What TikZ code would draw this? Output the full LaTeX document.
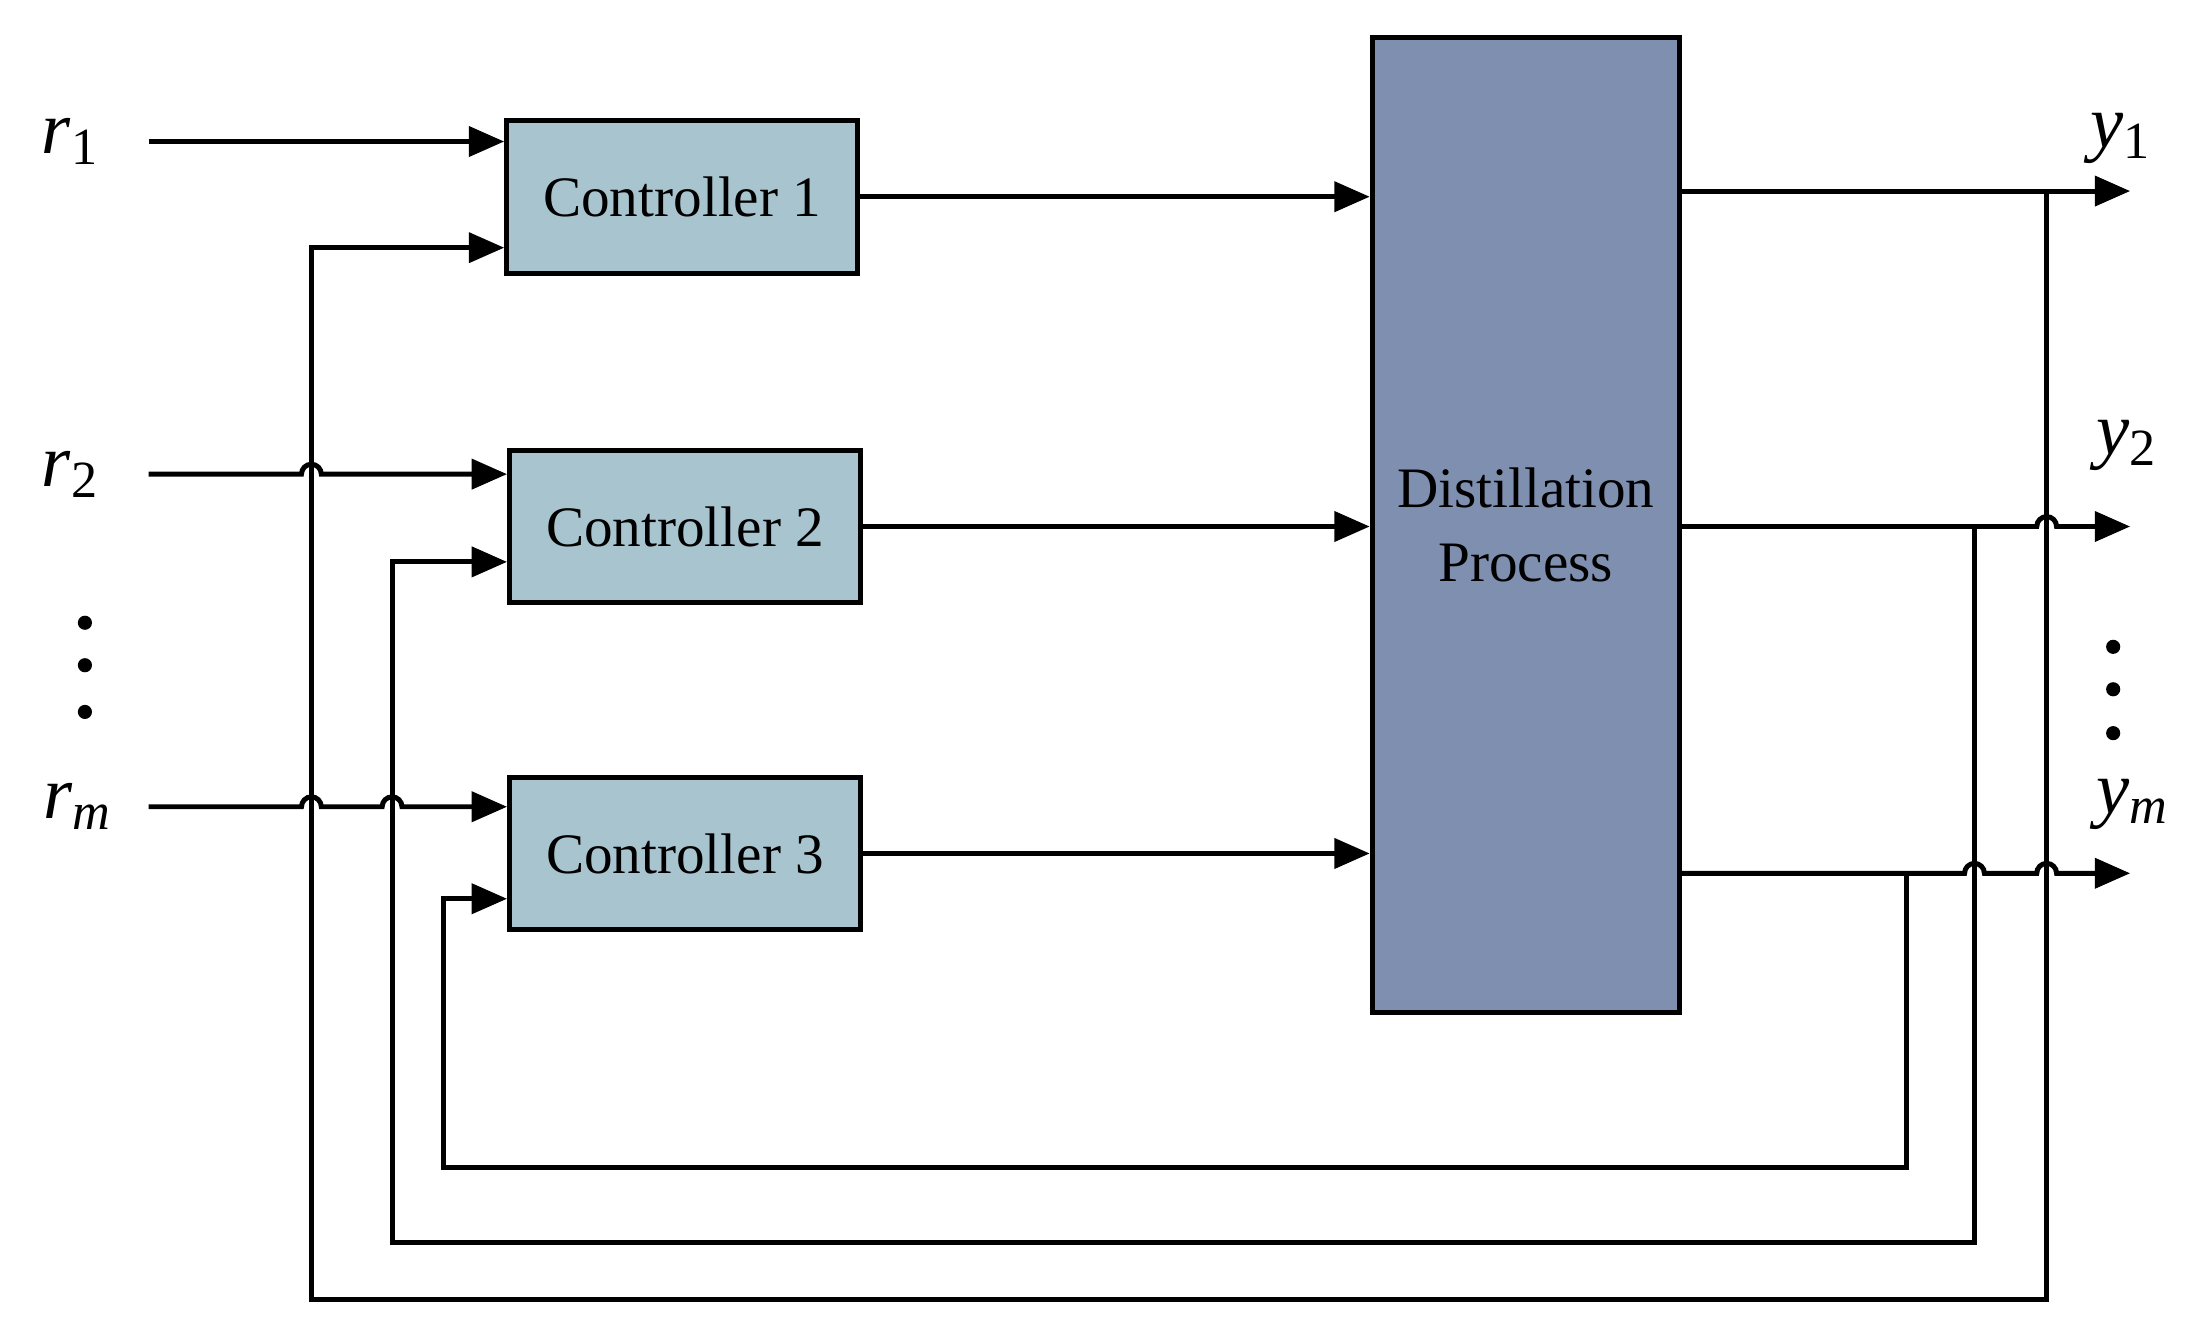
\documentclass[tikz,border=0pt]{standalone}
\usepackage{fontspec}
\setmainfont{Liberation Serif}
\usetikzlibrary{arrows.meta}
\definecolor{ctrl}{HTML}{A8C4CE}
\definecolor{proc}{HTML}{7F8FAF}
\begin{document}
\begin{tikzpicture}[x=0.1mm,y=-0.1mm,
  ln/.style={line width=1pt},
  ar/.style={ln,-{Triangle[length=2.5mm,width=2.1mm]}},
  box/.style={draw,line width=1pt,fill=ctrl,minimum width=24.8mm,minimum height=10.8mm,inner sep=0pt,font=\fontsize{11.5}{13}\selectfont},
  lab/.style={font=\fontsize{15}{17}\selectfont},
  dot/.style={circle,fill,inner sep=0pt,minimum size=1mm}]
\useasboundingbox (0,0) rectangle (1560,947);
\node[box] (c1) at (482,139) {Controller 1};
\node[box] (c2) at (484,372) {Controller 2};
\node[box] (c3) at (484,603) {Controller 3};
\node[draw,line width=1pt,fill=proc,minimum width=21.7mm,minimum height=68.9mm,inner sep=0pt,align=center,font=\fontsize{11.5}{15}\selectfont] (dp) at (1078,371) {Distillation\\Process};
% labels
\node[lab] (r1) at (50,100) {\textit{r}\textsubscript{1}};
\node[lab] (r2) at (50,335) {\textit{r}\textsubscript{2}};
\node[lab] (rm) at (55,570) {\textit{r}\textsubscript{\textit{m}}};
\node[lab] (y1) at (1499,98) {\textit{y}\textsubscript{1}};
\node[lab] (y2) at (1503,315) {\textit{y}\textsubscript{2}};
\node[lab] (ym) at (1507,568) {\textit{y}\textsubscript{\textit{m}}};
\foreach \i/\y in {a/440,b/470,c/503}{\node[dot] (ld\i) at (60,\y) {};}
\foreach \i/\y in {a/457,b/487,c/518}{\node[dot] (rd\i) at (1493,\y) {};}
% coordinates
\coordinate (r1s) at (105,100); \coordinate (r2s) at (105,335); \coordinate (rms) at (105,570);
\coordinate (o1) at (1505,135); \coordinate (o2) at (1505,372); \coordinate (om) at (1505,617);
% references to controllers
\draw[ar] (r1s) -- (r1s -| c1.west);
\draw[ar] (r2s) -- (213,335) arc[start angle=180,end angle=0,radius=0.7mm] -- (r2s -| c2.west);
\draw[ar] (rms) -- (213,570) arc[start angle=180,end angle=0,radius=0.7mm] -- (270,570) arc[start angle=180,end angle=0,radius=0.7mm] -- (rms -| c3.west);
% controller outputs
\draw[ar] (c1.east) -- (dp.west |- c1.east);
\draw[ar] (c2.east) -- (dp.west |- c2.east);
\draw[ar] (c3.east) -- (dp.west |- c3.east);
% process outputs
\draw[ar] (dp.east |- o1) -- (o1);
\draw[ar] (dp.east |- o2) -- (1439,372) arc[start angle=180,end angle=0,radius=0.7mm] -- (o2);
\draw[ar] (dp.east |- om) -- (1388,617) arc[start angle=180,end angle=0,radius=0.7mm] -- (1439,617) arc[start angle=180,end angle=0,radius=0.7mm] -- (om);
% feedback
\draw[ar] (1446,135) -- (1446,918) -- (220,918) -- (220,175) -- (c1.west |- 0,175);
\draw[ar] (1395,372) -- (1395,878) -- (277,878) -- (277,397) -- (c2.west |- 0,397);
\draw[ar] (1347,617) -- (1347,825) -- (313,825) -- (313,635) -- (c3.west |- 0,635);
\end{tikzpicture}
\end{document}
